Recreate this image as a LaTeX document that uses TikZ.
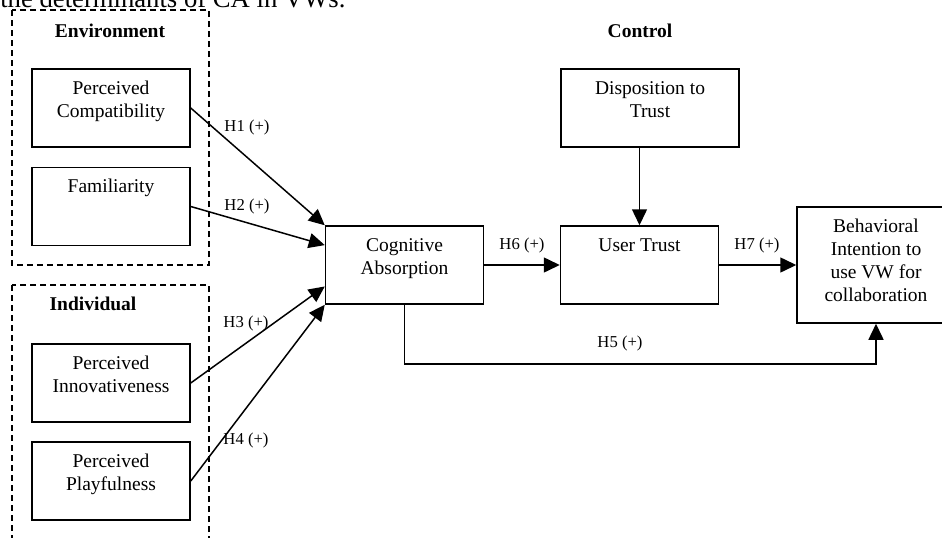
\documentclass[tikz,border=0pt]{standalone}
\usepackage{fontspec}
\setmainfont{Liberation Serif}
\usetikzlibrary{arrows.meta,calc}
\newcommand{\boxtext}[2][46.8pt]{\parbox[c][#1][t]{94.8pt}{\centering\vspace*{5.6pt}\strut#2}}
\begin{document}
\begin{tikzpicture}[x=0.6pt,y=-0.6pt,>={Triangle[length=9.6pt,width=9pt]},
    box/.style={draw,line width=0.9pt,inner sep=0pt,minimum width=94.8pt,minimum height=46.8pt,
      font=\fontsize{11.7}{13.8}\selectfont},
    group/.style={draw,line width=0.7pt,dash pattern=on 3.6pt off 2.4pt},
    title/.style={font=\fontsize{11.7}{14}\selectfont\bfseries},
    hlabel/.style={font=\fontsize{10}{12}\selectfont,inner sep=1pt},
    link/.style={->,line width=0.9pt}]
    \useasboundingbox (0,0) rectangle (942,537);
    \clip (0,0) rectangle (942,537);
    \node[anchor=base west,inner sep=0pt,font=\fontsize{16}{19}\selectfont] (caption) at (0,8) {the determinants of CA in VWs.};
    \draw[group] (12,10) rectangle (209,265);
    \draw[group] (12,285) rectangle (209,560);
    \node[title] (env) at (110,31) {Environment};
    \node[title] (indiv) at (93,304) {Individual};
    \node[title] (ctrl) at (640,31) {Control};
    \node[box] (comp) at (111,108) {\boxtext{Perceived\\Compatibility}};
    \node[box] (fam) at (111,206.5) {\boxtext{Familiarity}};
    \node[box] (innov) at (111,383) {\boxtext{Perceived\\Innovativeness}};
    \node[box] (play) at (111,481) {\boxtext{Perceived\\Playfulness}};
    \node[box] (ca) at (404.5,265) {\boxtext{Cognitive\\Absorption}};
    \node[box] (trust) at (639.5,265) {\boxtext{User Trust}};
    \node[box,minimum width=106.8pt] (disp) at (650,108) {\boxtext{Disposition to\\Trust}};
    \node[box,minimum height=69.6pt] (intent) at (876,265) {\boxtext[69.6pt]{Behavioral\\Intention to\\use VW for\\collaboration}};
    \draw[link] (comp.east) -- (ca.north west);
    \draw[link] (fam.east) -- ($(ca.north west)!0.25!(ca.south west)$);
    \draw[link] (innov.east) -- ($(ca.north west)!0.77!(ca.south west)$);
    \draw[link] (play.east) -- (ca.south west);
    \draw[link] (ca.east) -- (trust.west);
    \draw[link] (trust.east) -- (intent.west);
    \draw[link] (disp.south -| trust.north) -- (trust.north);
    \draw[link] (ca.south) -- ++(0,59) -| (intent.south);
    \node[hlabel] (h1) at (247,127) {H1 (+)};
    \node[hlabel] (h2) at (247,206) {H2 (+)};
    \node[hlabel] (h3) at (246,323) {H3 (+)};
    \node[hlabel] (h4) at (246,440) {H4 (+)};
    \node[hlabel] (h5) at (620,343) {H5 (+)};
    \node[hlabel] (h6) at (522,245) {H6 (+)};
    \node[hlabel] (h7) at (757,245) {H7 (+)};
\end{tikzpicture}
\end{document}
